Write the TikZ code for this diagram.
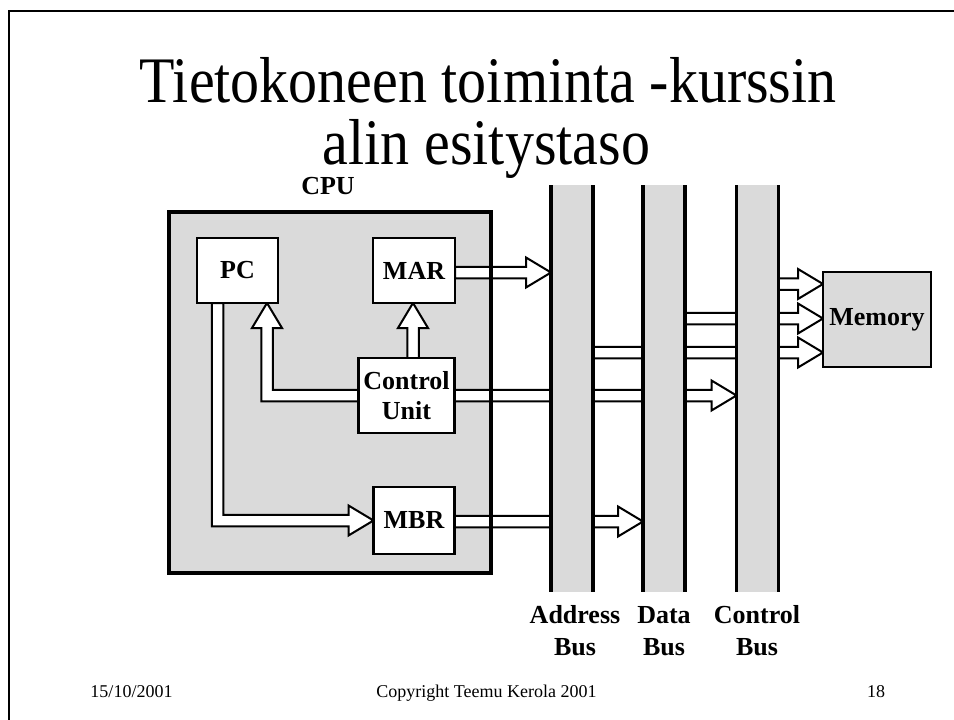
\documentclass[tikz,border=0pt]{standalone}
\usepackage{fontspec}
\setmainfont{Liberation Serif}
\usetikzlibrary{calc}
\definecolor{panel}{RGB}{218,218,218}
\pgfdeclarelayer{bg}
\pgfdeclarelayer{mid}
\pgfsetlayers{bg,mid,main}
\newcommand{\ahs}{5.75pt}
\newcommand{\ahh}{15pt}
\newcommand{\ahl}{25pt}
% horizontal fat arrow: starts at x of #1, tip at #2
\newcommand{\fatR}[2]{\filldraw[fat] let \p1=(#1), \p2=(#2) in
  (\x1,\y2+\ahs) -- (\x2-\ahl,\y2+\ahs) -- (\x2-\ahl,\y2+\ahh) -- (\x2,\y2)
  -- (\x2-\ahl,\y2-\ahh) -- (\x2-\ahl,\y2-\ahs) -- (\x1,\y2-\ahs) -- cycle;}
% vertical fat arrow pointing up: starts at y of #1, tip at #2
\newcommand{\fatU}[2]{\filldraw[fat] let \p1=(#1), \p2=(#2) in
  (\x2-\ahs,\y1) -- (\x2-\ahs,\y2-\ahl) -- (\x2-\ahh,\y2-\ahl) -- (\x2,\y2)
  -- (\x2+\ahh,\y2-\ahl) -- (\x2+\ahs,\y2-\ahl) -- (\x2+\ahs,\y1) -- cycle;}
\begin{document}
\begin{tikzpicture}[x=1pt,y=-1pt,
  fat/.style={fill=white,draw=black,line width=2pt,line join=miter},
  regbox/.style={draw=black,fill=white,line width=2.3pt,inner sep=0pt,outer sep=0pt,
    align=center,font=\bfseries\fontsize{26}{30}\selectfont},
  busfill/.style={fill=panel,draw=none,inner sep=0pt,outer sep=0pt,minimum width=42pt,minimum height=407pt},
  busline/.style={line width=3.5pt},
  lbl/.style={font=\bfseries\fontsize{26}{30}\selectfont,inner sep=0pt,anchor=base},
  foot/.style={font=\fontsize{18}{20}\selectfont,inner sep=0pt,anchor=base},
  titletext/.style={font=\fontsize{58}{60}\selectfont,inner sep=0pt,anchor=base}]
\useasboundingbox (0,0) rectangle (954,720);
\begin{pgfonlayer}{bg}
  \fill[white] (0,0) rectangle (954,720);
\end{pgfonlayer}
% slide frame
\draw[line width=2.5pt] (9,730) -- (9,11) -- (965,11);
% title
\node[titletext] (t1) at (488,102) {\scalebox{1}[1.12]{Tietokoneen toiminta -kurssin}};
\node[titletext] (t2) at (486.5,164) {\scalebox{1}[1.12]{alin esitystaso}};
% footer
\node[foot] (date) at (131.5,697) {15/10/2001};
\node[foot] (copy) at (486.5,697) {Copyright Teemu Kerola 2001};
\node[foot] (page) at (876,697) {18};
% CPU
\node[lbl] (cpulbl) at (328,194.5) {CPU};
\node[inner sep=0pt,outer sep=0pt,minimum width=322pt,minimum height=361pt] (cpu) at (330,392.5) {};
\begin{pgfonlayer}{bg}
  \fill[panel] (cpu.north west) rectangle (cpu.south east);
\end{pgfonlayer}
% registers
\node[regbox,minimum width=81pt,minimum height=65pt] (pc) at (237.5,270.5) {PC};
\node[regbox,minimum width=82pt,minimum height=65pt] (mar) at (414,270.5) {MAR};
\node[regbox,minimum width=96pt,minimum height=75pt] (cu) at (406.5,395.5) {Control\\Unit};
\node[regbox,minimum width=81pt,minimum height=67pt] (mbr) at (414,520.5) {MBR};
% buses
\node[busfill] (abus) at (572,388.5) {};
\node[busfill] (dbus) at (664,388.5) {};
\node[busfill] (cbus) at (757.5,388.5) {};
\foreach \b in {abus,dbus,cbus}{
  \draw[busline] (\b.north west) -- (\b.south west);
  \draw[busline] (\b.north east) -- (\b.south east);
}
\node[lbl] (al1) at (575,623) {Address};
\node[lbl] (al2) at (575,655) {Bus};
\node[lbl] (dl1) at (664,623) {Data};
\node[lbl] (dl2) at (664,655) {Bus};
\node[lbl] (cl1) at (757,623) {Control};
\node[lbl] (cl2) at (757,655) {Bus};
% memory
\node[regbox,fill=panel,minimum width=108pt,minimum height=95pt] (mem) at (877,319.5) {Memory};
% connectors
\coordinate (pcdown) at ($(pc.south west)+(20.5,0)$);
\coordinate (pcin) at ($(pc.south east)+(-11,0)$);
\begin{pgfonlayer}{mid}
  % MAR -> address bus
  \fatR{mar.east}{$(abus.west |- mar.east)+(0,2)$}
  % MBR -> data bus
  \fatR{mbr.east}{$(dbus.west |- mbr.east)+(0,1)$}
  % Control unit -> control bus
  \fatR{cu.east}{cbus.west |- cu.east}
  % bus lines -> memory
  \fatR{abus.center}{$(mem.west)+(0,33)$}
  \fatR{dbus.center}{$(mem.west)+(0,-1)$}
  \fatR{cbus.center}{$(mem.west)+(0,-35.5)$}
  % Control unit -> MAR
  \fatU{cu.north}{$(mar.south)+(-1,0)$}
  % Control unit -> PC
  \filldraw[fat] let \p1=(cu.west), \p2=(pcin) in
    (\x1,\y1+\ahs) -- (\x2+\ahs,\y1+\ahs) -- (\x2+\ahs,\y2-\ahl) -- (\x2+\ahh,\y2-\ahl)
    -- (\x2,\y2) -- (\x2-\ahh,\y2-\ahl) -- (\x2-\ahs,\y2-\ahl) -- (\x2-\ahs,\y1-\ahs)
    -- (\x1,\y1-\ahs) -- cycle;
  % PC -> MBR
  \filldraw[fat] let \p1=(pcdown), \p2=(mbr.west) in
    (\x1-\ahs,\y1) -- (\x1-\ahs,\y2-\ahs) -- (\x2-\ahl,\y2-\ahs) -- (\x2-\ahl,\y2-\ahh)
    -- (\x2,\y2) -- (\x2-\ahl,\y2+\ahh) -- (\x2-\ahl,\y2+\ahs) -- (\x1+\ahs,\y2+\ahs)
    -- (\x1+\ahs,\y1) -- cycle;
  % CPU border over the arrows
  \draw[line width=3.3pt] (cpu.north west) rectangle (cpu.south east);
\end{pgfonlayer}
\end{tikzpicture}
\end{document}
